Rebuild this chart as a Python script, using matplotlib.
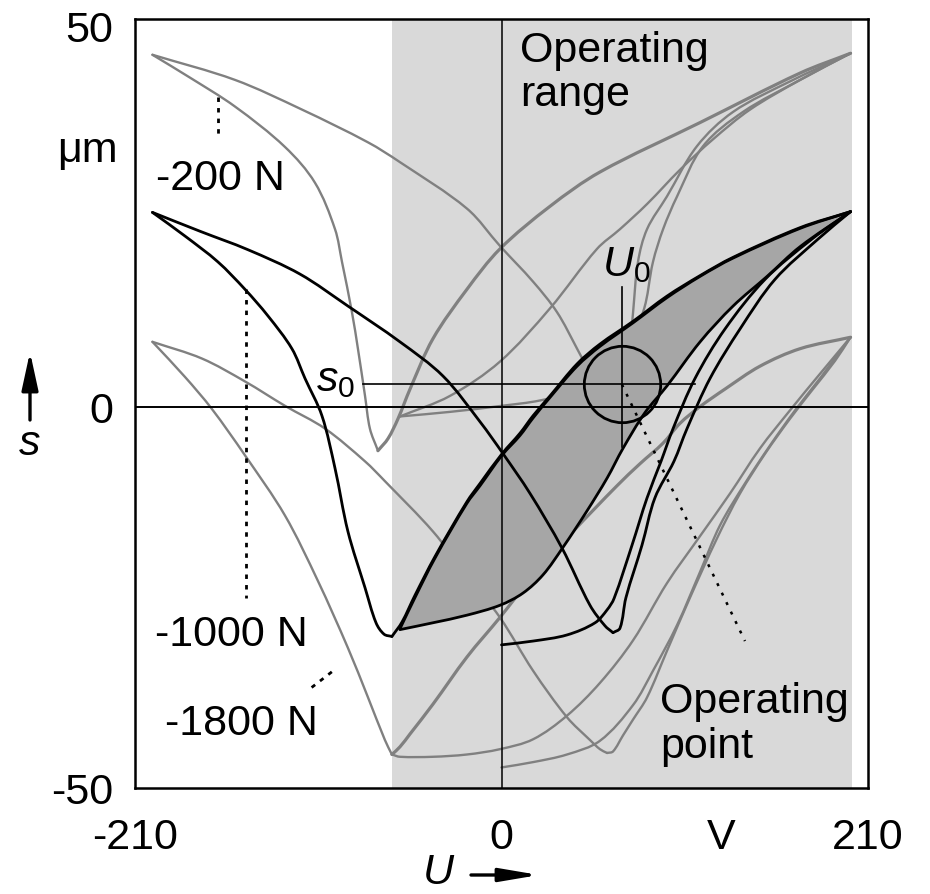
import numpy as np
import matplotlib
matplotlib.use("Agg")
import matplotlib.pyplot as plt
from matplotlib.patches import ArrowStyle, PathPatch
from matplotlib.path import Path

plt.rcParams['font.family'] = ['Liberation Sans', 'DejaVu Sans']
plt.rcParams['mathtext.fontset'] = 'custom'
plt.rcParams['mathtext.rm'] = 'Liberation Sans'
plt.rcParams['mathtext.it'] = 'Liberation Sans:italic'
plt.rcParams['axes.unicode_minus'] = False

# ---- measured stroke s (um) versus drive voltage U (V), pairs (U, s) ----
# preload -200 N
n200_left_to_rmin = [(-200, 46.3), (-152.7, 43.0), (-114.3, 39.1), (-76.5, 34.8), (-58.2, 32.2),
                     (-19.8, 26.1), (-0.9, 21.2), (18.1, 16.5), (31.8, 12.5),
                     (43.3, 7.7), (49.0, 5.1), (56.4, 1.1), (62.8, -2.1), (67.9, -3.8)]
n200_rmin_to_right = [(67.9, -3.8), (70.2, -0.2), (72.5, 5.1), (75.4, 12.5), (78.2, 19.1),
                      (83.4, 23.4), (94.8, 27.7), (112.0, 34.3), (132.7, 38.8), (165.3, 42.8),
                      (200, 46.5)]
n200_right_to_lmin = [(200, 46.5), (171.1, 43.9), (113.8, 37.4), (56.4, 30.9), (27.8, 26.4),
                      (-0.9, 20.8), (-19.8, 15.5), (-39.3, 9.0), (-52.4, 2.4), (-59.3, -1.5),
                      (-65.0, -4.1), (-70.8, -5.7)]
n200_lmin_to_left = [(-70.8, -5.7), (-75.4, -2.8), (-78.2, 1.5), (-82.2, 7.6), (-85.7, 12.5),
                     (-91.4, 19.1), (-95.4, 23.4), (-106.9, 29.5), (-124.1, 34.2),
                     (-152.7, 39.5), (-178.5, 43.3), (-200, 46.3)]
n200_minor_down = [(200, 46.5), (171.1, 43.0), (142.4, 39.1), (121.2, 35.2), (102.3, 31.2),
                   (83.4, 26.7), (67.9, 23.4), (54.7, 20.8), (27.8, 13.0), (-0.9, 6.0),
                   (-29.5, 1.5), (-58.2, -1.2)]
n200_minor_up = [(-58.2, -1.2), (-29.5, -0.6), (0.3, 0.2), (22.1, 0.9), (42.1, 2.2), (59.3, 4.8),
                 (70.8, 8.3), (81.1, 12.5), (86.8, 19.1), (92.6, 23.4), (100.6, 27.7),
                 (115.5, 34.3), (138.4, 38.8), (171.1, 43.0), (200, 46.5)]

# preload -1000 N
n1000_left_to_rmin = [(-200, 25.6), (-172.5, 23.1), (-145.3, 20.7), (-115.5, 17.5), (-88.0, 13.3),
                      (-58.2, 8.6), (-33.5, 4.1), (-12.3, -1.9), (0.9, -6.1), (16.3, -11.3),
                      (34.7, -18.5), (50.7, -26.0), (59.3, -28.7), (63.9, -29.6)]
n1000_rmin_to_right = [(63.9, -29.6), (67.9, -29.0), (71.3, -25.0), (80.5, -18.1), (87.9, -11.9),
                       (98.8, -7.1), (106.3, -2.8), (119.5, 3.8), (136.7, 10.3), (156.7, 16.8),
                       (181.4, 22.1), (200, 25.7)]
n1000_virgin = [(0, -31.2), (18.1, -30.7), (37.5, -29.9), (53.6, -28.3), (60.5, -26.6),
                (64.5, -25.1), (74.8, -18.1), (83.4, -11.9), (91.4, -7.1), (98.3, -2.8),
                (110.9, 3.8), (128.1, 10.3), (151.0, 16.8), (177.9, 22.1), (200, 25.7)]
n1000_right_to_lmin = [(200, 25.7), (171.1, 23.6), (132.7, 19.7), (113.8, 17.3), (94.8, 14.6),
                       (75.4, 11.3), (56.4, 8.3), (43.3, 5.7), (27.8, 1.5), (18.1, -1.1),
                       (10.6, -3.4), (0.3, -6.1), (-12.3, -10.0), (-19.8, -12.4), (-38.1, -19.6),
                       (-49.6, -24.7), (-57.0, -28.2), (-62.8, -30.1)]
n1000_lmin_to_left = [(-62.8, -30.1), (-67.3, -29.8), (-71.9, -28.3), (-78.2, -23.7),
                      (-88.0, -16.3), (-95.4, -8.0), (-102.9, -1.1), (-112.6, 3.8),
                      (-120.1, 7.7), (-133.8, 12.0), (-147.0, 15.5), (-162.5, 19.1),
                      (-181.4, 22.5), (-200, 25.6)]
n1000_minor_down = [(200, 25.7), (171.1, 23.5), (132.7, 19.6), (113.8, 17.2), (94.8, 14.4),
                    (75.4, 11.1), (56.4, 8.0), (43.3, 5.4), (27.8, 1.3), (18.1, -1.4),
                    (10.6, -3.7), (0.3, -6.3), (-12.3, -10.3), (-19.8, -12.6), (-38.1, -19.8),
                    (-49.6, -25.0), (-58.2, -29.1)]
n1000_minor_up = [(-58.2, -29.2), (-39.3, -28.3), (-19.8, -27.3), (-0.9, -26.0), (12.3, -24.4),
                  (23.8, -22.0), (35.2, -18.4), (49.0, -13.6), (60.5, -9.3), (69.6, -5.4),
                  (82.2, -0.7), (94.8, 2.8), (113.8, 8.6), (132.7, 13.3), (152.2, 17.2),
                  (171.1, 21.1), (200, 25.7)]

# preload -1800 N
n1800_left_to_rmin = [(-200, 8.6), (-171.6, 6.4), (-147.0, 3.4), (-124.1, 0.2), (-101.1, -2.8),
                      (-78.2, -7.1), (-66.8, -9.7), (-39.3, -16.3), (-19.8, -22.1), (-0.9, -27.6),
                      (18.1, -34.6), (37.5, -40.7), (50.7, -43.7), (56.4, -44.9), (60.5, -45.4)]
n1800_rmin_to_right = [(60.5, -45.4), (63.9, -45.2), (69.6, -43.1), (75.4, -41.0), (83.4, -38.1),
                       (94.8, -32.0), (108.0, -25.0), (123.5, -17.2), (136.7, -11.3),
                       (151.0, -6.1), (165.3, -1.5), (178.5, 2.4), (191.1, 6.1), (200, 9.2)]
n1800_virgin = [(0, -47.3), (18.1, -46.6), (37.5, -45.6), (56.4, -43.8), (75.4, -39.1),
                (86.8, -34.6), (100.6, -28.6), (113.8, -21.6), (125.2, -15.5), (139.5, -10.0),
                (153.9, -5.0), (168.2, -0.4), (182.5, 3.8), (200, 9.2)]
n1800_right_to_lmin = [(200, 9.2), (171.1, 7.7), (148.1, 5.4), (128.1, 2.4), (113.8, 0.1),
                       (102.3, -2.1), (92.6, -4.7), (79.4, -7.4), (66.2, -10.3), (41.0, -16.3),
                       (18.1, -22.1), (-0.9, -27.6), (-19.8, -32.8), (-39.3, -39.0),
                       (-52.4, -42.9), (-58.2, -44.6), (-62.8, -45.6)]
n1800_lmin_to_left = [(-62.8, -45.6), (-66.8, -43.7), (-76.5, -38.1), (-88.0, -31.6),
                      (-105.2, -22.8), (-124.1, -14.2), (-147.0, -6.3), (-166.0, -0.2),
                      (-181.4, 4.0), (-200, 8.6)]
n1800_minor_up = [(-62.8, -45.6), (-58.2, -45.9), (-39.3, -45.9), (-19.8, -45.6), (-0.9, -44.9),
                  (18.1, -43.6), (37.5, -40.5), (56.4, -36.2), (75.4, -30.6), (94.8, -23.1),
                  (113.8, -16.9), (131.0, -11.3), (148.1, -5.4), (165.3, -0.4), (182.5, 4.4),
                  (200, 9.2)]

# operating range and operating point
op_range = (-63, 201)
U0, s0 = 69, 3

force_labels = ['-200 N', '-1000 N', '-1800 N']
xtick_vals = [-210, 0, 126, 210]
xtick_text = ['-210', '0', 'V', '210']
ytick_vals = [-50, 0, 50]
ytick_text = ['-50', '0', '50']

GRAY = '#808080'
BLACK = '#000000'
FS = 31
# screen pixels per data unit, used only to shape the curve handles
SX, SY = 1.745, 7.64


def smooth_verts(pairs):
    """Cubic Bezier vertices passing through every measured point."""
    p = np.asarray(pairs, dtype=float)
    q = p * [SX, SY]
    n = len(q)
    seg = np.diff(q, axis=0)
    d = np.hypot(seg[:, 0], seg[:, 1])
    tang = np.empty_like(q)
    tang[0] = q[1] - q[0]
    tang[-1] = q[-1] - q[-2]
    tang[1:-1] = q[2:] - q[:-2]
    tang /= np.hypot(tang[:, 0], tang[:, 1])[:, None]
    verts = [q[0]]
    for i in range(n - 1):
        verts.append(q[i] + tang[i] * d[i] / 3)
        verts.append(q[i + 1] - tang[i + 1] * d[i] / 3)
        verts.append(q[i + 1])
    return np.array(verts) / [SX, SY]


def curve(ax, pairs, **kw):
    v = smooth_verts(pairs)
    codes = [Path.MOVETO] + [Path.CURVE4] * (len(v) - 1)
    ax.add_patch(PathPatch(Path(v, codes), fill=False, capstyle='round',
                           joinstyle='round', **kw))


fig = plt.figure(figsize=(9.3, 8.94), dpi=100)
ax = fig.add_axes([135 / 930, 1 - 788 / 894, 733 / 930, 769 / 894])
ax.set_xlim(-210, 210)
ax.set_ylim(-49.65, 51.0)

# operating range band
ax.axvspan(*op_range, color='#d9d9d9', lw=0, zorder=0)

gray_branches = [n200_left_to_rmin, n200_rmin_to_right, n200_lmin_to_left, n200_minor_down,
                 n200_minor_up, n1800_left_to_rmin, n1800_rmin_to_right, n1800_virgin,
                 n1800_lmin_to_left, n1800_minor_up]
for br in gray_branches:
    curve(ax, br, edgecolor=GRAY, lw=1.7, zorder=2)
for br in [n200_right_to_lmin, n1800_right_to_lmin]:
    curve(ax, br, edgecolor=GRAY, lw=2.3, zorder=2)

# minor loop of the -1000 N curve inside the operating range
v_dn = smooth_verts(n1000_minor_down)
v_up = smooth_verts(n1000_minor_up)
loop_v = np.concatenate([v_dn, v_up[1:], v_dn[:1]])
loop_c = ([Path.MOVETO] + [Path.CURVE4] * (len(v_dn) - 1) + [Path.CURVE4] * (len(v_up) - 1)
          + [Path.CLOSEPOLY])
ax.add_patch(PathPatch(Path(loop_v, loop_c), facecolor='#a6a6a6', edgecolor='none', zorder=3))

ax.axhline(0, color='k', lw=1.4, zorder=4)
ax.axvline(0, color='k', lw=1.1, zorder=4)

black_branches = [n1000_left_to_rmin, n1000_rmin_to_right, n1000_virgin, n1000_right_to_lmin,
                  n1000_lmin_to_left, n1000_minor_down, n1000_minor_up]
for br in black_branches:
    curve(ax, br, edgecolor=BLACK, lw=2.0, zorder=5)

# operating point marker with crosshair
ax.plot([U0], [s0], marker='o', ms=55, mfc='none', mec='k', mew=2.0, zorder=6)
ax.plot([U0, U0], [-5.2, 15.8], color='k', lw=1.2, zorder=6)
ax.plot([-79.4, 110.9], [s0, s0], color='k', lw=1.2, zorder=6)
ax.text(71.5, 17.2, r'$U_0$', fontsize=FS, ha='center', va='baseline', zorder=7)
ax.text(-84.0, 2.1, r'$s_0$', fontsize=FS, ha='right', va='baseline', zorder=7)

# dotted leaders
dot = dict(color='k', lw=2.0, linestyle=(0, (1.6, 2.2)), zorder=6)
ax.plot([-162.5, -162.5], [40.8, 35.2], **dot)
ax.plot([-146.4, -146.4], [15.5, -25.0], **dot)
ax.plot([-108.8, -96.4], [-36.8, -34.6], **dot)
ax.plot([U0, 139.5], [s0, -30.7], color='k', lw=1.8, linestyle=(0, (1.2, 3.0)), zorder=6)

# annotations
ax.text(-198.0, 28.5, force_labels[0], fontsize=FS, ha='left', va='baseline')
ax.text(-198.6, -31.3, force_labels[1], fontsize=FS, ha='left', va='baseline')
ax.text(-192.9, -43.1, force_labels[2], fontsize=FS, ha='left', va='baseline')
ax.text(10.6, 45.3, 'Operating', fontsize=FS, ha='left', va='baseline')
ax.text(10.6, 39.6, 'range', fontsize=FS, ha='left', va='baseline')
ax.text(90.8, -40.2, 'Operating', fontsize=FS, ha='left', va='baseline')
ax.text(90.8, -46.1, 'point', fontsize=FS, ha='left', va='baseline')
ax.text(-219.8, 32.2, '\u03bcm', fontsize=FS, ha='right', va='baseline', clip_on=False)

# ticks
ax.set_xticks(xtick_vals, xtick_text)
ax.set_yticks(ytick_vals, ytick_text)
ax.tick_params(axis='both', length=0, labelsize=FS)
ax.tick_params(axis='x', pad=21.6)
ax.tick_params(axis='y', pad=15.8)
for sp in ax.spines.values():
    sp.set_linewidth(1.8)

# axis names with arrows
fig.text(30 / 930, 439 / 894, 's', fontsize=FS, style='italic', ha='center', va='baseline')
fig.text(438 / 930, 10 / 894, 'U', fontsize=FS, style='italic', ha='center', va='baseline')
ax.annotate('', xy=(30, 894 - 352), xytext=(30, 894 - 420),
            xycoords='figure pixels', textcoords='figure pixels',
            arrowprops=dict(arrowstyle=ArrowStyle('-|>', head_length=1.15, head_width=0.25),
                            mutation_scale=20, lw=2.4, color='k', shrinkA=0, shrinkB=0))
ax.annotate('', xy=(539, 19), xytext=(471, 19),
            xycoords='figure pixels', textcoords='figure pixels',
            arrowprops=dict(arrowstyle=ArrowStyle('-|>', head_length=1.18, head_width=0.2),
                            mutation_scale=20, lw=2.4, color='k', shrinkA=0, shrinkB=0))

fig.savefig('out.png', dpi=100)
